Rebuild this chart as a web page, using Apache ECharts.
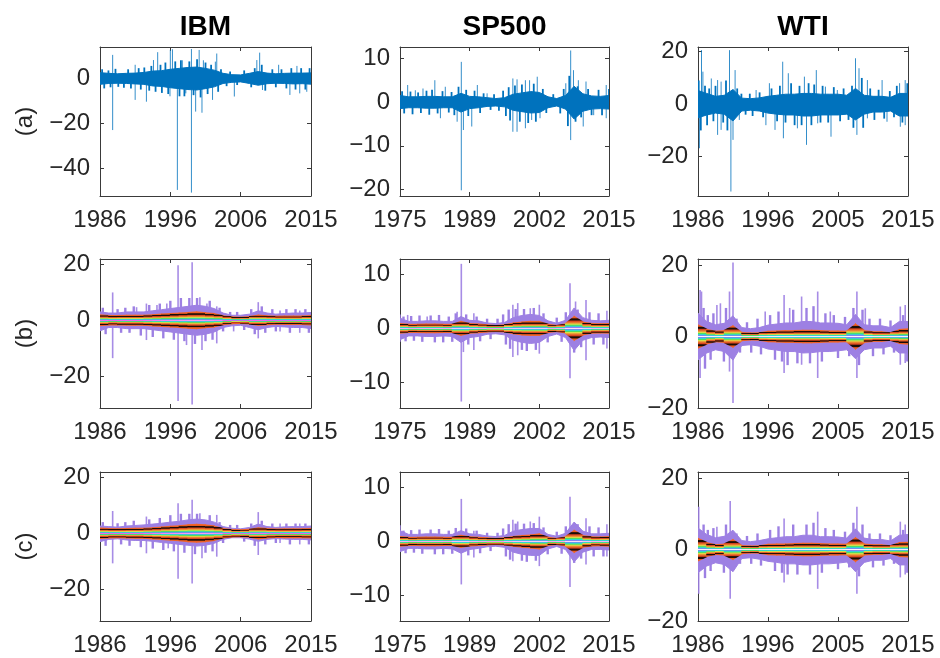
<!DOCTYPE html>
<html>
<head>
<meta charset="utf-8">
<title>IBM / SP500 / WTI returns</title>
<script src="https://cdn.jsdelivr.net/npm/echarts@6/dist/echarts.min.js"></script>
<style>
  html, body { margin: 0; padding: 0; background: #fff; }
  #chart { width: 940px; height: 658px; }
</style>
</head>
<body>
<div id="chart"></div>
<script>
// x runs 0..3 in tick units (the four year labels are equally spaced)
var ibmYears = ['1986', '1996', '2006', '2015'];
var spYears = ['1975', '1989', '2002', '2015'];
var wtiYears = ['1986', '1996', '2005', '2015'];

var ibmA_ticks = [-40, -20, 0];
var spA_ticks = [-20, -10, 0, 10];
var wtiA_ticks = [-20, 0, 20];
var ibmQ_ticks = [-20, 0, 20];
var spQ_ticks = [-10, 0, 10];
var wtiQ_ticks = [-20, 0, 20];

// solid core of the cloud, read every 1/8 tick; "spikes" = big isolated moves, "fringe" = ragged edge
// row (a): raw returns
var ibmA_hi = [2.5, 2.2, 2, 2.2, 2.3, 2.6, 3.2, 3.4, 4, 4.4, 4.8, 5, 4.4, 3.6, 2.2, 1.6, 1.5, 2.2, 3, 2.3, 2, 2.2, 2.3, 2.3, 2.4];
var ibmA_lo = [-2.7, -2.3, -2.2, -2.3, -2.5, -2.7, -3.4, -3.6, -4.2, -4.6, -5, -5.2, -4.6, -3.8, -2.3, -1.8, -1.6, -2.3, -3.1, -2.4, -2.2, -2.3, -2.5, -2.4, -2.6];
var ibmA_spikes = [[0.18, 10.4], [0.18, -23], [0.5, 6], [0.5, -9.6], [0.66, -10.4], [0.76, 8.1], [0.82, 11.6],
  [0.995, -8], [1.0, 12.6], [1.03, 12.9], [1.1, -49.6], [1.17, 8], [1.22, -6.7], [1.3, 13], [1.3, -50.8],
  [1.36, -14.8], [1.41, 12.6], [1.45, -15.3], [1.47, 8], [1.6, -9.6], [1.64, 7.4], [1.66, 11], [1.91, -8.1],
  [2.23, 8.1], [2.27, 11.4], [2.31, -5.2], [2.54, 6], [2.7, -7.4], [2.8, 5.5], [2.84, -6.7], [2.94, -6]];
var ibmA_fringe = [[0.03, 4], [0.06, -4.5], [0.12, 3.5], [0.15, -4], [0.22, 4.2], [0.26, -3.8], [0.34, -4.2],
  [0.4, 4], [0.44, -4.5], [0.55, 4.5], [0.58, -5], [0.63, 4.8], [0.7, -5.5], [0.73, 5.5], [0.79, -6], [0.86, 6],
  [0.88, -6.5], [0.93, 7], [0.97, -7], [1.07, 7.5], [1.13, -8], [1.15, 8], [1.2, -8], [1.27, 7.5], [1.33, -7.5],
  [1.38, 8.5], [1.43, -8.5], [1.5, 7], [1.53, -7], [1.58, 6], [1.68, -6], [1.72, 4], [1.8, -3.5], [1.85, 3],
  [1.95, -3], [2.05, 3.5], [2.15, -4], [2.2, 4.5], [2.3, 6], [2.35, -5.5], [2.45, 4], [2.5, -4], [2.58, 4],
  [2.65, -4.5], [2.72, 4.5], [2.78, -5], [2.86, 4.5], [2.92, -5], [2.98, 4.5]];

var spA_hi = [1.5, 1.2, 1.2, 1.3, 1.3, 1.2, 1.2, 2.0, 1.3, 1.2, 1.0, 0.8, 1.0, 1.8, 2.1, 2.4, 2.2, 1.2, 0.8, 1.5, 3.6, 1.9, 1.4, 1.3, 1.5];
var spA_lo = [-1.5, -1.3, -1.3, -1.4, -1.4, -1.3, -1.3, -2.3, -1.5, -1.3, -1.0, -0.9, -1.1, -1.9, -2.2, -2.5, -2.4, -1.3, -0.9, -1.6, -3.9, -2.1, -1.6, -1.5, -1.6];
var spA_spikes = [[0.11, 3.9], [0.22, 2.7], [0.33, 3.1], [0.5, 5.0], [0.58, -3.7], [0.65, 3.5], [0.82, -4.5],
  [0.88, 9.2], [0.88, -20.2], [0.91, -6.4], [1.03, -5.6], [1.11, 3.9], [1.25, 2], [1.62, 5.4], [1.62, -6.8],
  [1.68, 5.2], [1.68, -6.8], [1.8, -6.0], [1.8, 5], [1.86, 5], [1.89, -4.1], [1.97, 5.8], [2.01, -3.7],
  [2.38, 4.3], [2.45, 11.8], [2.45, -8.7], [2.49, 7.3], [2.56, 5], [2.63, -5.6], [2.67, 4.7], [2.78, -3],
  [2.96, 3.9], [2.96, -3.7]];
var spA_fringe = [[0.03, 2.5], [0.06, -2.6], [0.15, 2.4], [0.18, -2.8], [0.26, 2.2], [0.3, -2.5], [0.38, 2.6],
  [0.42, -2.9], [0.46, 2.8], [0.54, -2.6], [0.61, 2.5], [0.7, -2.4], [0.74, 2.3], [0.78, -3], [0.84, 3.5],
  [0.95, 2.8], [0.98, -3.2], [1.07, 2.6], [1.15, -2.5], [1.2, 2], [1.3, -1.8], [1.35, 1.8], [1.42, -2],
  [1.48, 2.6], [1.52, -3.2], [1.56, 3.4], [1.58, -4.2], [1.65, 3.8], [1.72, -4.5], [1.75, 4], [1.84, -4.8],
  [1.92, 4.2], [1.95, -4.5], [2.05, 3], [2.1, -2.5], [2.2, 1.8], [2.3, -2.6], [2.35, 3], [2.41, -5.5],
  [2.43, 6], [2.52, -4.5], [2.55, 3.6], [2.6, -3.5], [2.7, 3], [2.75, -3], [2.85, 2.8], [2.9, -3], [3.0, 3]];

var wtiA_hi = [5.2, 4.1, 3, 3.4, 5.6, 2.3, 2.1, 2.4, 3, 3.4, 3.8, 3.8, 4.1, 4.1, 3.8, 3.8, 3.8, 3.4, 6, 3.4, 3, 3, 2.6, 4.1, 4.1];
var wtiA_lo = [-5.2, -4.1, -3.4, -3.8, -6.4, -2.6, -2.3, -2.6, -3.4, -3.8, -4.1, -4.1, -4.5, -4.5, -4.1, -4.1, -4.1, -3.8, -6, -3.8, -3, -3, -2.6, -4.5, -4.5];
var wtiA_spikes = [[0.02, -16.8], [0.05, 20.6], [0.07, 12.4], [0.19, 9.8], [0.28, 9.2], [0.28, -11.7], [0.33, 8.6],
  [0.33, -9.8], [0.45, 20.6], [0.47, -33.3], [0.5, -13.6], [0.53, 13], [0.59, -6], [0.83, 5.4], [0.97, -8],
  [1.02, 8], [1.1, -9.8], [1.21, 16.2], [1.22, -13], [1.29, 11.8], [1.42, -9.2], [1.52, 10.5], [1.55, -15.5],
  [1.69, 13], [1.71, -7.3], [1.82, 6.7], [1.9, -12.4], [1.99, 5.4], [2.25, 17.5], [2.27, -11.7], [2.3, 13.7],
  [2.42, 9.2], [2.42, -5.4], [2.63, 9.2], [2.7, -6.7], [2.88, 8], [2.89, -8.6], [2.96, 9.2], [2.96, -8]];
var wtiA_fringe = [[0.01, 9], [0.04, -10], [0.1, 7], [0.13, -8], [0.16, 6], [0.22, -6.5], [0.25, 7], [0.36, -7],
  [0.4, 9], [0.42, -10], [0.56, 6], [0.62, 4], [0.68, -4], [0.74, 4], [0.78, -4.5], [0.88, 4.5], [0.93, -5],
  [1.05, 6], [1.13, -6.5], [1.17, 7], [1.25, -7], [1.33, 8], [1.38, -8], [1.45, 7], [1.48, -8], [1.58, 8],
  [1.62, -8], [1.66, 7.5], [1.75, -7], [1.78, 7], [1.86, -7], [1.94, 6.5], [2.03, -6.5], [2.08, 6], [2.15, -6],
  [2.2, 7], [2.22, -9], [2.34, 10], [2.36, -9], [2.46, 6], [2.52, -6], [2.58, 5.5], [2.66, -5.5], [2.74, 5],
  [2.8, -5], [2.84, 7], [2.92, -7], [2.99, 8]];

// rows (b) and (c): purple outer cloud, half width of the coloured quantile band
var ibmB_hi = [3, 2.6, 2.6, 3, 3, 3, 3.4, 3.8, 4.2, 4.6, 5, 5.4, 5, 4.2, 2.6, 1.8, 1.8, 2.2, 3.4, 2.6, 2.2, 2.4, 2.6, 2.6, 2.8];
var ibmB_lo = [-3.8, -2.6, -2.6, -3, -3, -3, -3.4, -3.8, -4.2, -4.6, -5, -5.4, -5, -4.2, -2.6, -2, -1.8, -2.6, -3.4, -2.6, -2.2, -2.4, -2.6, -2.6, -3];
var ibmB_band = [2.2, 1.9, 1.9, 2.0, 2.0, 2.0, 2.2, 2.4, 2.6, 2.8, 3.0, 3.2, 2.9, 2.6, 1.8, 1.4, 1.3, 1.5, 2.1, 1.8, 1.6, 1.7, 1.7, 1.7, 1.9];
var ibmB_spikes = [[0.18, 10], [0.18, -13.6], [0.52, 4.7], [0.66, 6], [0.66, -7.1], [0.81, 5.5], [0.95, 6],
  [1.11, 19.8], [1.11, -29], [1.23, -8.9], [1.31, 20.8], [1.31, -30.2], [1.42, 8.3], [1.45, -10.7], [1.52, 6],
  [1.66, 5], [1.66, -8.3], [1.9, -4], [2.25, 6.5], [2.25, -6.5], [2.56, 3.5], [2.56, -4], [2.84, 3.5], [2.84, -4.5]];
var ibmB_fringe = [[0.04, 4.5], [0.08, -5], [0.25, 4], [0.3, -4.5], [0.36, 4.5], [0.42, -4.5], [0.48, 5],
  [0.58, -5.5], [0.7, 5.5], [0.75, -6], [0.85, 6], [0.9, -6.5], [1.0, 7], [1.05, -7], [1.15, 8], [1.2, -7.5],
  [1.27, 8], [1.35, -8.5], [1.38, 8], [1.5, -7.5], [1.56, 7], [1.6, -7], [1.7, 4.5], [1.75, -4], [1.85, 3],
  [1.95, 3], [2.05, -3.5], [2.15, 4], [2.2, -5], [2.3, 5], [2.35, -4.5], [2.45, 4], [2.5, -4], [2.65, 4],
  [2.7, -4.5], [2.78, 4], [2.92, 4], [2.97, -4.5]];

var ibmC_hi = [2.6, 2.4, 2.2, 2.6, 2.8, 3, 3.3, 3.6, 4, 4.3, 4.8, 5.1, 4.8, 4, 2.4, 1.8, 1.6, 2.1, 3.3, 2.4, 2.1, 2.3, 2.4, 2.4, 2.6];
var ibmC_lo = [-3, -2.2, -2, -2.4, -2.6, -2.6, -2.9, -3.3, -3.6, -4, -4.3, -4.6, -4.3, -3.6, -2.2, -1.6, -1.6, -2.1, -2.9, -2.2, -1.9, -2.1, -2.2, -2.2, -2.4];
var ibmC_band = [2.1, 1.9, 1.8, 1.9, 2.0, 2.0, 2.2, 2.4, 2.7, 2.9, 3.2, 3.4, 3.2, 2.8, 1.9, 1.5, 1.4, 1.6, 2.2, 1.9, 1.7, 1.8, 1.8, 1.8, 1.9];
var ibmC_spikes = [[0.18, 8], [0.18, -10.8], [0.66, 6], [0.66, -7.2], [0.97, -5.4], [1.11, 10.8], [1.11, -16.3],
  [1.31, 12], [1.31, -18], [1.42, 7.2], [1.45, -9], [1.66, 6.6], [1.66, -8.4], [2.25, 7.6], [2.25, -7.8],
  [2.56, 3.5], [2.56, -3.5], [2.84, 3.5], [2.84, -4]];
var ibmC_fringe = [[0.04, 4], [0.08, -4.5], [0.25, 3.6], [0.3, -4], [0.36, 4], [0.42, -4.5], [0.48, 4.5],
  [0.58, -5], [0.7, 5], [0.75, -5.5], [0.85, 5.5], [0.9, -6], [1.0, 6.5], [1.05, -6.5], [1.15, 7], [1.2, -7],
  [1.27, 7], [1.35, -7.5], [1.38, 7], [1.5, -7], [1.56, 6.5], [1.6, -6.5], [1.7, 4], [1.75, -3.5], [1.85, 3],
  [1.95, 3], [2.05, -3], [2.15, 3.5], [2.2, -4.5], [2.3, 4.5], [2.35, -4], [2.45, 3.5], [2.5, -3.5], [2.65, 3.5],
  [2.7, -4], [2.78, 3.5], [2.92, 3.5], [2.97, -4]];

var spB_hi = [1.9, 1.3, 1.3, 1.4, 1.4, 1.3, 1.3, 2.2, 1.5, 1.4, 1.0, 0.9, 1.1, 2.0, 2.4, 2.6, 2.4, 1.4, 0.95, 1.5, 3.8, 2.0, 1.5, 1.4, 1.5];
var spB_lo = [-2.1, -1.4, -1.4, -1.5, -1.5, -1.4, -1.5, -2.6, -1.7, -1.5, -1.1, -1.0, -1.2, -2.2, -2.6, -2.8, -2.6, -1.5, -1.05, -1.7, -4.1, -2.2, -1.7, -1.6, -1.7];
var spB_band = [1.0, 0.85, 0.85, 0.9, 0.9, 0.85, 0.85, 1.4, 1.0, 0.9, 0.75, 0.65, 0.75, 1.1, 1.3, 1.4, 1.4, 0.85, 0.65, 0.95, 2.4, 1.3, 1.0, 0.95, 1.0];
var spB_spikes = [[0.0, 2.6], [0.0, -2.5], [0.11, 2.5], [0.39, 2.2], [0.82, 3.1], [0.88, 12], [0.88, -13.6],
  [0.91, -4.4], [1.06, 2.8], [1.06, -4], [1.62, 4.4], [1.62, -5.3], [1.69, 4.7], [1.69, -5], [1.87, 3.75],
  [2.0, 4.4], [2.0, -4.7], [2.44, 8.4], [2.44, -9.25], [2.52, 5], [2.67, 5.3], [2.67, -5.9], [2.97, 3.3], [2.97, -3.75]];
var spB_fringe = [[0.05, 2.2], [0.08, -2.4], [0.16, 2.3], [0.2, -2.3], [0.28, 2.4], [0.32, -2.5], [0.44, 2.4],
  [0.5, -2.6], [0.56, 2.5], [0.62, -2.6], [0.7, 2.2], [0.75, -2.5], [0.8, 2.8], [0.95, 2.6], [0.98, -3],
  [1.1, 2.2], [1.15, -2.4], [1.25, 1.8], [1.3, -2], [1.4, 1.8], [1.48, 2.6], [1.52, -3], [1.56, 3.5],
  [1.58, -3.8], [1.66, 3.6], [1.75, -4], [1.78, 3.6], [1.82, -4.2], [1.92, 3.8], [1.95, -4], [2.06, 2.8],
  [2.12, -2.6], [2.25, 2], [2.32, -2.5], [2.38, 3], [2.5, -4.5], [2.55, 3.5], [2.6, -3.5], [2.72, 3],
  [2.78, -3], [2.85, 2.8], [2.92, -3]];

var spC_hi = [2.0, 1.3, 1.3, 1.4, 1.4, 1.3, 1.3, 2.0, 1.4, 1.3, 1.0, 0.9, 1.1, 1.9, 2.2, 2.4, 2.4, 1.3, 0.95, 1.5, 3.6, 1.9, 1.4, 1.4, 1.5];
var spC_lo = [-1.9, -1.3, -1.3, -1.4, -1.4, -1.3, -1.4, -2.2, -1.5, -1.3, -1.0, -0.9, -1.1, -2.0, -2.4, -2.6, -2.6, -1.4, -0.95, -1.5, -3.8, -2.0, -1.5, -1.5, -1.6];
var spC_band = [1.0, 0.85, 0.85, 0.9, 0.9, 0.85, 0.85, 1.25, 0.95, 0.85, 0.75, 0.65, 0.75, 1.0, 1.2, 1.3, 1.5, 0.85, 0.65, 0.95, 2.2, 1.2, 0.95, 0.9, 1.0];
var spC_spikes = [[0.0, 3], [0.88, 7.9], [0.88, -8], [1.06, 2], [1.06, -3], [1.62, 4], [1.62, -3.7], [1.69, 3.7],
  [1.87, 3.7], [2.0, 4.6], [2.0, -4.6], [2.44, 8.3], [2.44, -8.5], [2.67, 4.3], [2.67, -4.3], [2.97, 3.2], [2.97, -2.8]];
var spC_fringe = [[0.05, 2], [0.08, -2.2], [0.16, 2.1], [0.2, -2.1], [0.28, 2.2], [0.32, -2.3], [0.44, 2.2],
  [0.5, -2.4], [0.56, 2.3], [0.62, -2.4], [0.7, 2], [0.75, -2.3], [0.8, 2.5], [0.95, 2.4], [0.98, -2.6],
  [1.1, 2], [1.15, -2.2], [1.25, 1.6], [1.3, -1.8], [1.4, 1.6], [1.48, 2.4], [1.52, -2.8], [1.56, 3.2],
  [1.58, -3.4], [1.66, 3.3], [1.75, -3.6], [1.78, 3.3], [1.82, -3.8], [1.92, 3.4], [1.95, -3.6], [2.06, 2.6],
  [2.12, -2.4], [2.25, 1.8], [2.32, -2.3], [2.38, 2.8], [2.5, -4], [2.55, 3.2], [2.6, -3.2], [2.72, 2.8],
  [2.78, -2.8], [2.85, 2.6], [2.92, -2.8]];

var wtiB_hi = [6.5, 4.2, 3.3, 3.7, 5.8, 2.5, 2.2, 2.5, 3.2, 3.5, 3.8, 3.8, 4.2, 4.2, 3.8, 3.8, 3.7, 3.3, 6.2, 3.3, 3, 3, 2.5, 4.2, 4.2];
var wtiB_lo = [-6.5, -4.6, -3.7, -4.2, -6.6, -2.5, -2.3, -2.7, -3.5, -3.8, -4.2, -4.2, -4.6, -4.5, -4.2, -4.2, -4, -3.7, -6.2, -3.7, -3.2, -3.2, -2.7, -4.6, -4.6];
var wtiB_band = [3.5, 2.2, 1.6, 1.8, 3.2, 1.3, 1.1, 1.2, 1.6, 1.7, 1.8, 1.8, 1.9, 1.9, 1.8, 1.7, 1.7, 1.6, 3.8, 1.8, 1.5, 1.5, 1.2, 2.1, 2.3];
var wtiB_spikes = [[0.03, 13], [0.03, -11.6], [0.05, 12.6], [0.27, 8.8], [0.32, 9.3], [0.45, 12.6], [0.45, -9.8],
  [0.5, 20.7], [0.5, -18.6], [0.96, 7], [1.23, 11.6], [1.23, -10.2], [1.31, 8], [1.48, 11.2], [1.48, -7.9],
  [1.71, 12.6], [1.71, -11.6], [1.89, 7], [2.27, 12.6], [2.27, -11.6], [2.39, 7.9], [2.89, 8.4], [2.89, -7.9],
  [2.96, 8.8], [2.96, -7.4]];
var wtiB_fringe = [[0.08, 8], [0.1, -9], [0.14, 6], [0.18, -6.5], [0.22, 6.5], [0.37, -7], [0.4, 8], [0.55, 5],
  [0.6, -4.5], [0.7, 4], [0.76, -4.5], [0.85, 5], [0.9, -5], [1.03, 6], [1.1, -6.5], [1.15, 7], [1.2, -7],
  [1.28, -8], [1.36, 7.5], [1.42, -7.5], [1.55, 8], [1.6, -7.5], [1.65, 8.5], [1.77, -7], [1.82, 6.5],
  [1.94, 6], [2.0, -6], [2.1, 5.5], [2.16, -5.5], [2.22, 8], [2.3, -8], [2.35, 7.5], [2.45, 5], [2.5, -5.5],
  [2.6, 5], [2.65, -5], [2.75, 4.5], [2.8, -4.5], [2.93, 6], [2.99, -7]];

var wtiC_hi = [6, 4.2, 3.3, 3.7, 5.4, 2.5, 2.2, 2.5, 3, 3.3, 3.6, 3.6, 4, 4, 3.6, 3.6, 3.5, 3.2, 5.8, 3.2, 2.8, 2.8, 2.4, 4, 4.2];
var wtiC_lo = [-6.5, -4.6, -3.7, -4.2, -6.2, -2.5, -2.3, -2.7, -3.3, -3.6, -4, -4, -4.3, -4.3, -4, -4, -3.8, -3.5, -6.2, -3.6, -3, -3, -2.5, -4.3, -4.3];
var wtiC_band = [3.4, 2.1, 1.5, 1.7, 3.0, 1.3, 1.1, 1.2, 1.6, 1.7, 1.7, 1.8, 1.9, 1.9, 1.8, 1.7, 1.7, 1.6, 3.6, 1.7, 1.5, 1.5, 1.2, 2.1, 2.2];
var wtiC_spikes = [[0.01, 12], [0.01, -12.4], [0.27, 6.4], [0.46, 13.6], [0.46, -13.8], [1.23, 8.7], [1.23, -9.2],
  [1.71, 10.6], [1.71, -11], [2.27, 12], [2.27, -12.4], [2.89, 7.8], [2.89, -7.8], [2.96, 7], [2.96, -7]];
var wtiC_fringe = [[0.08, 7], [0.1, -8], [0.14, 5.5], [0.18, -6], [0.22, 6], [0.37, -6.5], [0.4, 7], [0.55, 4.5],
  [0.6, -4], [0.7, 3.8], [0.76, -4], [0.85, 4.5], [0.9, -4.5], [1.03, 5.5], [1.1, -6], [1.15, 6.5], [1.2, -6.5],
  [1.28, -7], [1.36, 7], [1.42, -7], [1.55, 7], [1.6, -7], [1.65, 7.5], [1.77, -6.5], [1.82, 6],
  [1.94, 5.5], [2.0, -5.5], [2.1, 5], [2.16, -5], [2.22, 7.5], [2.3, -7.5], [2.35, 7], [2.45, 4.5], [2.5, -5],
  [2.6, 4.5], [2.65, -4.5], [2.75, 4], [2.8, -4], [2.93, 5.5], [2.99, -6.5]];

var samplePos = [];
for (var s = 0; s < 25; s++) samplePos.push(s * 0.125);

var FONT = '"Liberation Sans", Arial, Helvetica, sans-serif';
var TEXT = '#262626';
var FRAME = '#3a3a3a';
var BLUE = '#0072bd';
var PURPLE = '#9d80e3';

var colLeft = [100, 400, 698];
var colWidth = [211, 209, 210];
var rowTop = [47, 259, 472];
var rowHeight = 149;
var colYears = [ibmYears, spYears, wtiYears];

var panels = [
  { row: 0, col: 0, hi: ibmA_hi, lo: ibmA_lo, spikes: ibmA_spikes, fringe: ibmA_fringe, yMin: -52.3, yMax: 13.9, ticks: ibmA_ticks },
  { row: 0, col: 1, hi: spA_hi, lo: spA_lo, spikes: spA_spikes, fringe: spA_fringe, yMin: -21.5, yMax: 12.6, ticks: spA_ticks },
  { row: 0, col: 2, hi: wtiA_hi, lo: wtiA_lo, spikes: wtiA_spikes, fringe: wtiA_fringe, yMin: -35, yMax: 21.8, ticks: wtiA_ticks },
  { row: 1, col: 0, hi: ibmB_hi, lo: ibmB_lo, band: ibmB_band, spikes: ibmB_spikes, fringe: ibmB_fringe, yMin: -31.5, yMax: 22, ticks: ibmQ_ticks },
  { row: 1, col: 1, hi: spB_hi, lo: spB_lo, band: spB_band, spikes: spB_spikes, fringe: spB_fringe, yMin: -14.8, yMax: 12.9, ticks: spQ_ticks },
  { row: 1, col: 2, hi: wtiB_hi, lo: wtiB_lo, band: wtiB_band, spikes: wtiB_spikes, fringe: wtiB_fringe, yMin: -20, yMax: 21.7, ticks: wtiQ_ticks },
  { row: 2, col: 0, hi: ibmC_hi, lo: ibmC_lo, band: ibmC_band, spikes: ibmC_spikes, fringe: ibmC_fringe, yMin: -31.5, yMax: 22, ticks: ibmQ_ticks },
  { row: 2, col: 1, hi: spC_hi, lo: spC_lo, band: spC_band, spikes: spC_spikes, fringe: spC_fringe, yMin: -14.8, yMax: 12.9, ticks: spQ_ticks },
  { row: 2, col: 2, hi: wtiC_hi, lo: wtiC_lo, band: wtiC_band, spikes: wtiC_spikes, fringe: wtiC_fringe, yMin: -20, yMax: 21.7, ticks: wtiQ_ticks }
];

// colours of the nested quantile lines, outside -> median -> outside
var bandStops = [
  [0, '#f26d2c'], [0.09, '#ea5a22'], [0.13, '#1a0c05'], [0.17, '#1a0c05'], [0.22, '#d8431e'], [0.29, '#f08a34'],
  [0.34, '#d6e04a'], [0.38, '#4fdc5e'], [0.42, '#2fd8d2'], [0.46, '#6f8ef0'], [0.48, '#f060f0'], [0.5, '#ffffff'],
  [0.52, '#f060f0'], [0.54, '#6f8ef0'], [0.58, '#2fd8d2'], [0.62, '#4fdc5e'], [0.66, '#d6e04a'], [0.71, '#f08a34'],
  [0.78, '#d8431e'], [0.83, '#1a0c05'], [0.87, '#1a0c05'], [0.91, '#ea5a22'], [1, '#f26d2c']
].map(function (d) { return { offset: d[0], color: d[1] }; });

function fmtTick(v) {
  return v < 0 ? '\u2212' + (-v) : String(v);
}

function spikeSeries(k, data, color, width, opacity) {
  return {
    type: 'custom', xAxisIndex: 2 * k, yAxisIndex: 2 * k, clip: true, silent: true,
    data: data,
    renderItem: function (params, api) {
      var a = api.coord([api.value(0), 0]);
      var b = api.coord([api.value(0), api.value(1)]);
      return {
        type: 'line', shape: { x1: a[0], y1: a[1], x2: b[0], y2: b[1] },
        style: { stroke: color, lineWidth: width, opacity: opacity }
      };
    }
  };
}

var grids = [], xAxes = [], yAxes = [], series = [];

panels.forEach(function (p, k) {
  grids.push({ left: colLeft[p.col], top: rowTop[p.row], width: colWidth[p.col], height: rowHeight });
  var lineStyle = { color: FRAME, width: 1 };
  var years = colYears[p.col];
  xAxes.push({
    gridIndex: k, type: 'value', min: 0, max: 3, position: 'bottom',
    axisLine: { show: true, onZero: false, lineStyle: lineStyle },
    axisTick: { show: true, inside: true, length: 4, customValues: [0, 1, 2, 3], lineStyle: lineStyle },
    axisLabel: {
      customValues: [0, 1, 2, 3], margin: 12, fontSize: 24, fontFamily: FONT, color: TEXT,
      formatter: function (v) { return years[Math.round(v)]; }
    },
    splitLine: { show: false }
  });
  xAxes.push({
    gridIndex: k, type: 'value', min: 0, max: 3, position: 'top',
    axisLine: { show: true, onZero: false, lineStyle: lineStyle },
    axisTick: { show: true, inside: true, length: 4, customValues: [0, 1, 2, 3], lineStyle: lineStyle },
    axisLabel: { show: false }, splitLine: { show: false }
  });
  yAxes.push({
    gridIndex: k, type: 'value', min: p.yMin, max: p.yMax, position: 'left',
    axisLine: { show: true, onZero: false, lineStyle: lineStyle },
    axisTick: { show: true, inside: true, length: 4, customValues: p.ticks, lineStyle: lineStyle },
    axisLabel: { customValues: p.ticks, margin: 10, fontSize: 24, fontFamily: FONT, color: TEXT, formatter: fmtTick },
    splitLine: { show: false }
  });
  yAxes.push({
    gridIndex: k, type: 'value', min: p.yMin, max: p.yMax, position: 'right',
    axisLine: { show: true, onZero: false, lineStyle: lineStyle },
    axisTick: { show: true, inside: true, length: 4, customValues: p.ticks, lineStyle: lineStyle },
    axisLabel: { show: false }, splitLine: { show: false }
  });

  var raw = !p.band;
  var col = raw ? BLUE : PURPLE;
  var hi = p.hi, lo = p.lo;

  // big isolated moves (thin, slightly see-through) and the ragged edge of the cloud
  series.push(spikeSeries(k, p.spikes, col, raw ? 1 : 1.6, raw ? 0.8 : 0.9));
  series.push(spikeSeries(k, p.fringe, col, raw ? 1.8 : 2.4, 1));

  // solid core of the cloud
  series.push({
    type: 'custom', xAxisIndex: 2 * k, yAxisIndex: 2 * k, clip: true, silent: true,
    data: [[0, 0]],
    renderItem: function (params, api) {
      var pts = [];
      for (var i = 0; i < hi.length; i++) pts.push(api.coord([samplePos[i], hi[i]]));
      for (var j = lo.length - 1; j >= 0; j--) pts.push(api.coord([samplePos[j], lo[j]]));
      return { type: 'polygon', shape: { points: pts }, style: { fill: col, stroke: col, lineWidth: 1 } };
    }
  });

  if (!raw) {
    var band = p.band;
    series.push({
      type: 'custom', xAxisIndex: 2 * k, yAxisIndex: 2 * k, clip: true, silent: true,
      data: band.map(function (b, i) { return [samplePos[i], b]; }),
      renderItem: function (params, api) {
        var i = params.dataIndex;
        if (i === 0) return null;
        var a1 = api.coord([samplePos[i - 1], band[i - 1]]);
        var a2 = api.coord([samplePos[i], band[i]]);
        var b2 = api.coord([samplePos[i], -band[i]]);
        var b1 = api.coord([samplePos[i - 1], -band[i - 1]]);
        var pts = [[a1[0] - 0.5, a1[1]], [a2[0] + 0.5, a2[1]], [b2[0] + 0.5, b2[1]], [b1[0] - 0.5, b1[1]]];
        return {
          type: 'polygon', shape: { points: pts },
          style: { fill: new echarts.graphic.LinearGradient(0, 0, 0, 1, bandStops) }
        };
      }
    });
  }
});

var graphics = [];
var titles = ['IBM', 'SP500', 'WTI'];
titles.forEach(function (t, c) {
  graphics.push({
    type: 'text', x: colLeft[c] + colWidth[c] / 2, y: 27, silent: true,
    style: { text: t, fontSize: 28, fontWeight: 'bold', fontFamily: FONT, fill: '#000', align: 'center', verticalAlign: 'middle' }
  });
});
['(a)', '(b)', '(c)'].forEach(function (t, r) {
  graphics.push({
    type: 'text', x: 25, y: rowTop[r] + rowHeight / 2, rotation: Math.PI / 2, silent: true,
    style: { text: t, fontSize: 24, fontFamily: FONT, fill: TEXT, align: 'center', verticalAlign: 'middle' }
  });
});

var chart = echarts.init(document.getElementById('chart'));
chart.setOption({
  animation: false,
  backgroundColor: '#ffffff',
  grid: grids,
  xAxis: xAxes,
  yAxis: yAxes,
  series: series,
  graphic: graphics
});
</script>
</body>
</html>
